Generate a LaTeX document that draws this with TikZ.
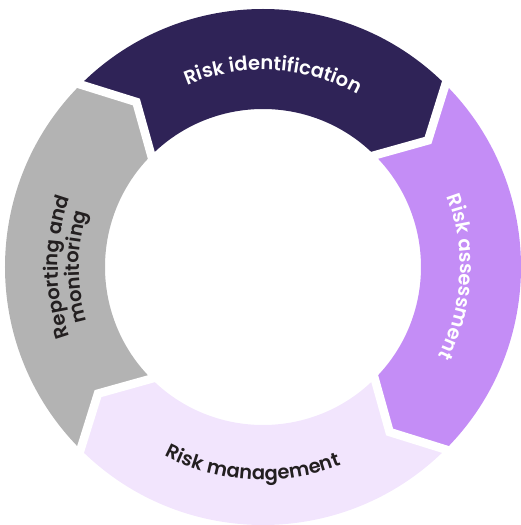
\documentclass[tikz,border=0pt]{standalone}
\usepackage{fontspec}
\newfontfamily\lblfont{Poppins}[UprightFont={* SemiBold}]
\usetikzlibrary{decorations.text,calc}

\definecolor{segdark}{HTML}{2F2357}
\definecolor{segviolet}{HTML}{C48DF6}
\definecolor{seglilac}{HTML}{F2E5FD}
\definecolor{seggray}{HTML}{B3B3B3}
\definecolor{inkdark}{HTML}{231F20}

% ring radii and arrow-tip lag (degrees)
\def\Ro{258}
\def\Ri{158}
\def\Rm{208}
\def\tipd{7.5}

% one arrow-shaped ring segment running clockwise from #1 to #2
\newcommand\ringseg[3]{%
  \fill[#3] (#1:\Ro) arc[start angle=#1, end angle=#2, radius=\Ro]
    -- ({#2-\tipd}:\Rm) -- (#2:\Ri)
    arc[start angle=#2, end angle=#1, radius=\Ri]
    -- ({#1-\tipd}:\Rm) -- cycle;}

\newcommand\lblstyle{\lblfont\fontsize{19.5}{23}\selectfont}

\tikzset{
  gapline/.style={white, line width=8.5pt, line join=miter, line cap=butt},
  arclabel/.style={decorate, decoration={text along path, text align=center, text={#1}}},
}

\begin{document}
\begin{tikzpicture}[x=1pt,y=1pt]
\useasboundingbox (-263,-258) rectangle (257,267);

\ringseg{135}{45}{segdark}
\ringseg{45}{-45}{segviolet}
\ringseg{-45}{-135}{seglilac}
\ringseg{225}{135}{seggray}

% white separators between the segments
\foreach \b/\n in {135/a,45/b,-45/c,-135/d}{
  \coordinate (o\n) at (\b:\Ro);
  \coordinate (t\n) at ({\b-\tipd}:\Rm);
  \coordinate (i\n) at (\b:\Ri);
  \draw[gapline] ($(t\n)!1.3!(o\n)$) -- (t\n) -- ($(t\n)!1.3!(i\n)$);
}

% labels set along the ring
\path[arclabel={|\lblstyle\color{white}|Risk identification}]
  (127:197) arc[start angle=127, end angle=47, radius=197];
\path[arclabel={|\lblstyle\color{white}|Risk assessment}]
  (37:197) arc[start angle=37, end angle=-43, radius=197];
\path[arclabel={|\lblstyle\color{inkdark}|Risk management}]
  (-133:213) arc[start angle=-133, end angle=-53, radius=213];
\path[arclabel={|\lblstyle\color{inkdark}|Reporting and}]
  (220:205) arc[start angle=220, end angle=140, radius=205];
\path[arclabel={|\lblstyle\color{inkdark}|monitoring}]
  (220:184) arc[start angle=220, end angle=140, radius=184];
\end{tikzpicture}
\end{document}
